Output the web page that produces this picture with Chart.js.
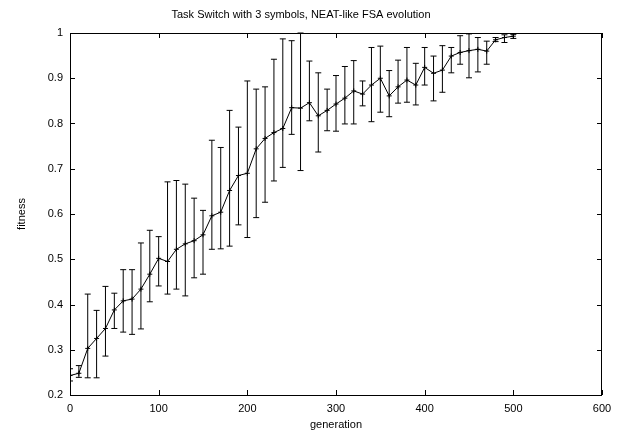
<!DOCTYPE html>
<html lang="en">

<head>
  <meta charset="UTF-8" />
  <title>task switch fitness</title>
  <script src="https://cdn.jsdelivr.net/npm/chart.js@4.4.0/dist/chart.umd.min.js"></script>
  <style>
    body {
      margin: 0;
      background: #fff;
    }
  </style>
</head>

<body>
  <canvas id="myChart" width="619" height="434"></canvas>

  <script>
    // values (mean fitness with low/high error bar ends)
    const generations = [0, 10, 20, 30, 40, 50, 60, 70, 80, 90, 100, 110, 120, 130, 140, 150, 160, 170, 180, 190,
      200, 210, 220, 230, 240, 250, 260, 270, 280, 290, 300, 310, 320, 330, 340, 350, 360, 370, 380, 390,
      400, 410, 420, 430, 440, 450, 460, 470, 480, 490, 500];
    const meanFitness = [0.243, 0.248, 0.303, 0.325, 0.347, 0.388, 0.408, 0.412, 0.434, 0.467, 0.502, 0.495, 0.522,
      0.534, 0.541, 0.554, 0.596, 0.604, 0.652, 0.685, 0.69, 0.744, 0.767, 0.78, 0.789, 0.835, 0.834, 0.846, 0.817,
      0.829, 0.843, 0.856, 0.872, 0.865, 0.885, 0.9, 0.861, 0.881, 0.896, 0.885, 0.924, 0.911, 0.918, 0.949, 0.957,
      0.961, 0.964, 0.96, 0.985, 0.99, 0.993];
    const lowFitness = [0.231, 0.239, 0.238, 0.238, 0.286, 0.347, 0.339, 0.334, 0.346, 0.406, 0.441, 0.423, 0.434,
      0.419, 0.459, 0.467, 0.522, 0.523, 0.529, 0.576, 0.548, 0.592, 0.626, 0.673, 0.703, 0.776, 0.696, 0.806, 0.737,
      0.784, 0.783, 0.799, 0.799, 0.839, 0.804, 0.825, 0.815, 0.845, 0.847, 0.841, 0.885, 0.85, 0.869, 0.912, 0.931,
      0.901, 0.914, 0.931, 0.981, 0.979, 0.988];
    const highFitness = [0.258, 0.265, 0.423, 0.387, 0.44, 0.425, 0.477, 0.477, 0.536, 0.564, 0.55, 0.671, 0.674,
      0.666, 0.635, 0.608, 0.763, 0.747, 0.829, 0.792, 0.894, 0.876, 0.881, 0.942, 0.987, 0.983, 1.0, 0.938, 0.912,
      0.876, 0.906, 0.926, 0.939, 0.894, 0.968, 0.971, 0.917, 0.94, 0.968, 0.933, 0.968, 0.949, 0.972, 0.968, 0.994,
      0.998, 0.99, 0.982, 0.99, 0.996, 0.997];

    const FONT = { family: "'Liberation Sans', Arial, sans-serif", size: 11, weight: 'normal' };

    // error bars, drawn through the chart's own scales
    const errorBars = {
      id: 'errorBars',
      afterDatasetsDraw(chart) {
        const { ctx, chartArea, scales: { x, y } } = chart;
        ctx.save();
        ctx.beginPath();
        ctx.rect(chartArea.left, chartArea.top - 1, chartArea.width, chartArea.height + 2);
        ctx.clip();
        ctx.strokeStyle = '#000';
        ctx.lineWidth = 1;
        generations.forEach((g, i) => {
          const px = x.getPixelForValue(g);
          const top = y.getPixelForValue(highFitness[i]);
          const bot = y.getPixelForValue(lowFitness[i]);
          ctx.beginPath();
          ctx.moveTo(px, top);
          ctx.lineTo(px, bot);
          ctx.moveTo(px - 3, top);
          ctx.lineTo(px + 3, top);
          ctx.moveTo(px - 3, bot);
          ctx.lineTo(px + 3, bot);
          ctx.stroke();
        });
        ctx.restore();
      }
    };

    // gnuplot-like frame with inward ticks on all sides
    const frame = {
      id: 'frame',
      afterDraw(chart) {
        const { ctx, chartArea: a, scales: { x, y } } = chart;
        const len = 5;
        ctx.save();
        ctx.strokeStyle = '#000';
        ctx.lineWidth = 1;
        ctx.beginPath();
        ctx.rect(Math.round(a.left) + 0.5, Math.round(a.top) + 0.5,
          Math.round(a.width) - 1, Math.round(a.height));
        x.ticks.forEach(t => {
          const px = Math.round(x.getPixelForValue(t.value)) + 0.5;
          ctx.moveTo(px, a.bottom);
          ctx.lineTo(px, a.bottom - len);
          ctx.moveTo(px, a.top);
          ctx.lineTo(px, a.top + len);
        });
        y.ticks.forEach(t => {
          const py = Math.round(y.getPixelForValue(t.value)) + 0.5;
          ctx.moveTo(a.left, py);
          ctx.lineTo(a.left + len, py);
          ctx.moveTo(a.right, py);
          ctx.lineTo(a.right - len, py);
        });
        ctx.stroke();
        ctx.restore();
      }
    };

    const ctx = document.getElementById('myChart').getContext('2d');
    const myChart = new Chart(ctx, {
      type: 'line',
      data: {
        datasets: [{
          label: 'fitness',
          data: generations.map((g, i) => ({ x: g, y: meanFitness[i] })),
          borderColor: '#000',
          borderWidth: 1,
          tension: 0,
          fill: false,
          pointStyle: 'cross',
          pointRadius: 2.5,
          pointBorderWidth: 1,
          pointBorderColor: '#000'
        }]
      },
      options: {
        responsive: false,
        animation: false,
        layout: { padding: { right: 17 } },
        plugins: {
          legend: { display: false },
          tooltip: { enabled: false },
          title: {
            display: true,
            text: 'Task Switch with 3 symbols, NEAT-like FSA evolution',
            color: '#000',
            font: FONT,
            padding: { top: 8, bottom: 11.8 }
          }
        },
        scales: {
          x: {
            type: 'linear',
            min: 0,
            max: 600,
            grid: { display: false, drawTicks: false },
            border: { display: false },
            ticks: { stepSize: 100, color: '#000', font: FONT, padding: 7, maxRotation: 0 },
            title: { display: true, text: 'generation', color: '#000', font: FONT, padding: { top: 0, bottom: 2 } },
            afterFit: scale => { scale.height = 39; }
          },
          y: {
            type: 'linear',
            min: 0.2,
            max: 1,
            grid: { display: false, drawTicks: false },
            border: { display: false },
            ticks: {
              stepSize: 0.1,
              color: '#000',
              font: FONT,
              padding: 7,
              callback: v => String(+v.toFixed(1))
            },
            title: { display: true, text: 'fitness', color: '#000', font: FONT, padding: { top: 15, bottom: 0 } },
            afterFit: scale => { scale.width = 70; }
          }
        }
      },
      plugins: [errorBars, frame]
    });
  </script>
</body>

</html>
